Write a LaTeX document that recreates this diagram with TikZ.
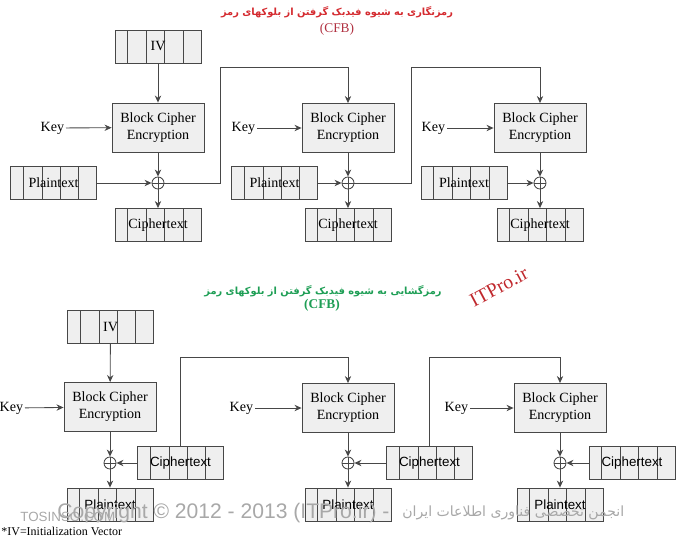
\documentclass[tikz,border=0pt]{standalone}
\usepackage{fontspec}
\setmainfont{Liberation Serif}
\newfontfamily\sanslib{Liberation Sans}
\newfontfamily\farsi[Script=Arabic]{DejaVu Sans}
\TeXXeTstate=1
\usetikzlibrary{arrows.meta,calc}
\definecolor{dg}{HTML}{474747}
\definecolor{boxfill}{HTML}{EFEFEF}
\definecolor{titlered}{HTML}{D42A2F}
\definecolor{cfbred}{HTML}{B03040}
\definecolor{titlegreen}{HTML}{1E9E55}
\definecolor{itred}{HTML}{C0282D}
\definecolor{wmgray}{HTML}{A8A8A8}
\tikzset{
    block/.style =  {rectangle,
                    fill=boxfill,
                    draw=dg,
                    text=black,
                    align=center,
                    font=\fontsize{10}{12}\selectfont,
                    minimum width=2.3cm,
                    minimum height=1.225cm},
    reg/.style =    {rectangle,
                    fill=boxfill,
                    draw=dg,
                    text=black,
                    inner sep=0pt,
                    font=\fontsize{10}{12}\selectfont,
                    minimum width=2.15cm,
                    minimum height=0.825cm,
                    path picture={
                        \foreach \f in {0.15,0.37,0.58,0.79}
                            \draw[dg] ($(path picture bounding box.south west)!\f!(path picture bounding box.south east)$)
                                   -- ($(path picture bounding box.north west)!\f!(path picture bounding box.north east)$);
                    }},
    regsans/.style = {reg,
                    font=\sanslib\fontsize{9.5}{11}\selectfont},
    xor/.style =    {circle,
                    fill=white,
                    draw=dg,
                    inner sep=0pt,
                    minimum size=0.3cm,
                    path picture={
                        \draw[dg] (path picture bounding box.north) -- (path picture bounding box.south)
                                  (path picture bounding box.west) -- (path picture bounding box.east);
                    }},
    keytext/.style = {inner sep=1pt,
                    text=black,
                    font=\fontsize{10}{12}\selectfont},
    wmark/.style =  {text=wmgray,
                    inner sep=0pt}}

\begin{document}
\begin{tikzpicture}[x=0.025cm,y=-0.025cm,>={Stealth[length=5pt,width=4.5pt]},line width=0.6pt,color=dg]
    \useasboundingbox (0,0) rectangle (678,540);

    % titles
    \node[text=titlered,font=\farsi\bfseries\fontsize{7}{9}\selectfont] (T1) at (337,12)
        {\beginR رمزنگاری به شیوه فیدبک گرفتن از بلوکهای رمز\endR};
    \node[text=cfbred,font=\fontsize{9.5}{11}\selectfont] (S1) at (337,29) {(CFB)};
    \node[text=titlegreen,font=\farsi\bfseries\fontsize{7}{9}\selectfont] (T2) at (323,291)
        {\beginR رمزگشایی به شیوه فیدبک گرفتن از بلوکهای رمز\endR};
    \node[text=titlegreen,font=\bfseries\fontsize{9.5}{11}\selectfont] (S2) at (322,305) {(CFB)};
    \node[text=itred,rotate=28,font=\fontsize{14}{16}\selectfont] (W1) at (499,287) {ITPro.ir};

    % encryption
    \node[reg]     (IV1) at (158,46.5)  {IV};
    \node[block]   (E1)  at (158,127.5) {Block Cipher\\Encryption};
    \node[block]   (E2)  at (348,128)   {Block Cipher\\Encryption};
    \node[block]   (E3)  at (540,128)   {Block Cipher\\Encryption};
    \node[keytext,anchor=east] (K1) at (66,128)  {Key};
    \node[keytext,anchor=east] (K2) at (257,128) {Key};
    \node[keytext,anchor=east] (K3) at (447,128) {Key};
    \node[xor]     (X1)  at (158,183) {};
    \node[xor]     (X2)  at (348,183) {};
    \node[xor]     (X3)  at (540,183) {};
    \node[reg]     (P1)  at (53.5,183)  {Plaintext};
    \node[reg]     (P2)  at (274.5,183) {Plaintext};
    \node[reg]     (P3)  at (464,183)   {Plaintext};
    \node[reg]     (C1)  at (158,225)   {Ciphertext};
    \node[reg]     (C2)  at (348,225)   {Ciphertext};
    \node[reg]     (C3)  at (540,225)   {Ciphertext};
    \coordinate    (F1)  at (220,67);
    \coordinate    (F2)  at (411,67);

    \path [->]  (IV1) edge (E1)
                (K1) edge (E1)  (K2) edge (E2)  (K3) edge (E3)
                (E1) edge (X1)  (E2) edge (X2)  (E3) edge (X3)
                (P1) edge (X1)  (P2) edge (X2)  (P3) edge (X3)
                (X1) edge (C1)  (X2) edge (C2)  (X3) edge (C3);
    \draw [->] (X1.east) -| (F1) -| (E2.north);
    \draw [->] (X2.east) -| (F2) -| (E3.north);

    % decryption
    \node[reg]     (IV2) at (110.5,326.5) {IV};
    \node[block]   (D1)  at (110,407)   {Block Cipher\\Encryption};
    \node[block]   (D2)  at (348,408)   {Block Cipher\\Encryption};
    \node[block]   (D3)  at (560,408)   {Block Cipher\\Encryption};
    \node[keytext,anchor=east] (L1) at (25,408)  {Key};
    \node[keytext,anchor=east] (L2) at (255,408) {Key};
    \node[keytext,anchor=east] (L3) at (470,408) {Key};
    \node[xor]     (Y1)  at (110,463) {};
    \node[xor]     (Y2)  at (348,463) {};
    \node[xor]     (Y3)  at (560,463) {};
    \node[regsans] (Q1)  at (180.5,463) {Ciphertext};
    \node[regsans] (Q2)  at (429.5,463) {Ciphertext};
    \node[regsans] (Q3)  at (632,463)   {Ciphertext};
    \node[regsans] (R1)  at (110,504.5) {Plaintext};
    \node[regsans] (R2)  at (348,504.5) {Plaintext};
    \node[regsans] (R3)  at (560,504.5) {Plaintext};
    \coordinate    (G1)  at (180.5,357);
    \coordinate    (G2)  at (429.5,357);

    \path [->]  (IV2) edge (D1)
                (L1) edge (D1)  (L2) edge (D2)  (L3) edge (D3)
                (D1) edge (Y1)  (D2) edge (Y2)  (D3) edge (Y3)
                (Q1) edge (Y1)  (Q2) edge (Y2)  (Q3) edge (Y3)
                (Y1) edge (R1)  (Y2) edge (R2)  (Y3) edge (R3);
    \draw [->] (Q1.north) -- (G1) -| (D2.north);
    \draw [->] (Q2.north) -- (G2) -| (D3.north);

    % notes
    \node[anchor=west,text=black,inner sep=0pt,font=\fontsize{8.5}{10}\selectfont] (N1) at (1,531)
        {*IV=Initialization Vector};
    \node[wmark,anchor=west,font=\sanslib\fontsize{15}{17}\selectfont] (W2) at (57,513)
        {Copyright © 2012 - 2013 (ITPro.ir) -};
    \node[wmark,anchor=west,font=\farsi\fontsize{10}{12}\selectfont] (W3) at (402,513)
        {\beginR انجمن تخصصی فناوری اطلاعات ایران\endR};
    \node[wmark,anchor=west,font=\sanslib\fontsize{9.5}{11}\selectfont] (W4) at (20,517) {TOSINSO.COM};
\end{tikzpicture}
\end{document}
